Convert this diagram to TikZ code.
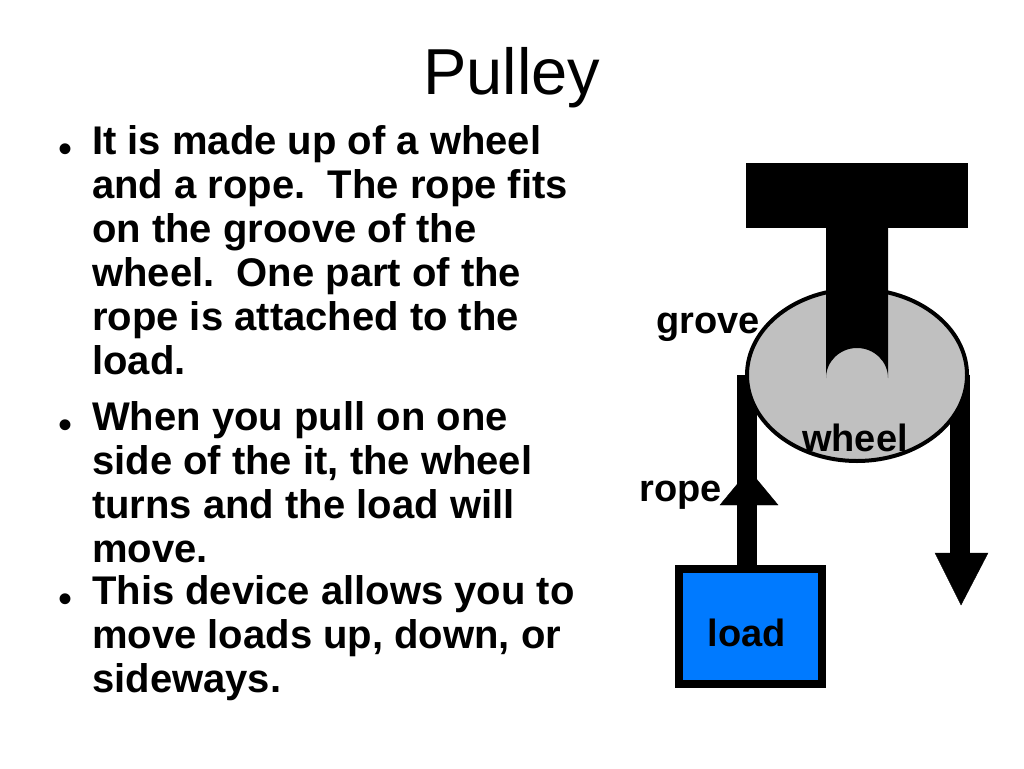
\documentclass[tikz,border=0pt]{standalone}
\usepackage{fontspec}
\setmainfont{Liberation Sans}
\usetikzlibrary{positioning}
\definecolor{loadblue}{RGB}{0,122,255}
\definecolor{wheelgray}{RGB}{192,192,192}
\tikzset{
    bullettext/.style={anchor=north west,align=left,inner sep=0pt,font=\fontsize{40}{44}\selectfont\bfseries},
    dot/.style={anchor=base,inner sep=0pt,font=\fontsize{40}{44}\selectfont},
    tag/.style={inner sep=0pt,font=\fontsize{38}{40}\selectfont\bfseries},
    rope/.style={line width=20pt,draw=black},
    tip/.style={fill=black,draw=black}
}
\begin{document}
\begin{tikzpicture}[x=1pt,y=-1pt]
            \useasboundingbox (0,0) rectangle (1024,768);

            %%% TITLE %%%
            \node[font=\fontsize{65}{70}\selectfont] (title) at (512,78) {Pulley};

            %%% BULLETS %%%
            \node[bullettext] (b1) at (92,125) {It is made up of a wheel\\and a rope.\ \ The rope fits\\on the groove of the\\wheel.\ \ One part of the\\rope is attached to the\\load.};
            \node[bullettext] (b2) at (92,401) {When you pull on one\\side of the it, the wheel\\turns and the load will\\move.};
            \node[bullettext] (b3) at (92,575) {This device allows you to\\move loads up, down, or\\sideways.};
            \foreach \y in {162,438,612} \node[dot] at (66,\y) {\textbullet};

            %%% ROPES %%%
            \draw[rope] (747,375) -- (747,568);
            \draw[rope] (960,375) -- (960,555);
            \filldraw[tip] (720,505) -- (749,470) -- (778,505) -- cycle;
            \filldraw[tip] (935,553) -- (988,553) -- (961,605) -- cycle;

            %%% WHEEL %%%
            \filldraw[fill=wheelgray,draw=black,line width=4pt] (857,375) ellipse (110 and 86);
            \node[tag] (wheel) at (855,438) {wheel};

            %%% HANGER %%%
            \fill (746,163) rectangle (968,228);
            \fill (826,228) -- (826,378) arc (180:360:31 and 30) -- (888,228) -- cycle;

            %%% LOAD %%%
            \filldraw[fill=loadblue,draw=black,line width=8pt] (679,569) rectangle (822,684);
            \node[tag] (load) at (747,633) {load};

            %%% LABELS %%%
            \node[tag,anchor=east] (grove) at (760,327) {grove};
            \node[tag,anchor=east] (ropelbl) at (722,495) {rope};
\end{tikzpicture}
\end{document}
